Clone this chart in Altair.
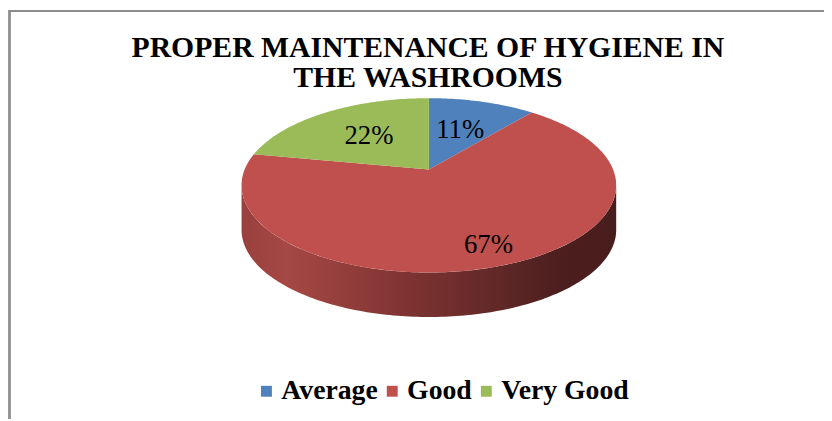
import numpy as np
import pandas as pd
import altair as alt

# ---- data ----
categories = ["Average", "Good", "Very Good"]
values = [11, 67, 22]

# ---- style / geometry constants ----
colors = ["#4f81bd", "#c0504d", "#9bbb59"]
label_radius = [0.55, 0.82, 0.55]
W, H = 824, 413
CX, CY, RX, RY, PERSP, DEPTH = 425, 161, 186, 85.1, 0.182, 45
SERIF = "Liberation Serif"


def project(theta, f=1.0):
    u = f * np.sin(theta)
    v = f * np.cos(theta)
    d = 1 + PERSP * v
    return CX + RX * u / d, CY - RY * v / d


total = float(sum(values))
bounds = np.concatenate([[0.0], np.cumsum(values)]) / total * 2 * np.pi

# top faces of the slices
rows = []
for k, cat in enumerate(categories):
    a0, a1 = bounds[k], bounds[k + 1]
    n = max(int((a1 - a0) / (2 * np.pi) * 360), 4)
    pts = [(CX, CY)] + [project(t) for t in np.linspace(a0, a1, n)]
    for i, (x, y) in enumerate(pts):
        rows.append(dict(category=cat, i=i, x=x, y=y))
slices = pd.DataFrame(rows)

# visible side wall (front part of the outer edge)
t_lo = np.arccos(-PERSP)
t_hi = 2 * np.pi - t_lo
wrows = []
for k, cat in enumerate(categories):
    a0, a1 = max(bounds[k], t_lo), min(bounds[k + 1], t_hi)
    if a1 <= a0:
        continue
    ts = np.linspace(a0, a1, max(int((a1 - a0) / (2 * np.pi) * 360), 4))
    top = [project(t) for t in ts]
    poly = top + [(x, y + DEPTH) for (x, y) in reversed(top)]
    for i, (x, y) in enumerate(poly):
        wrows.append(dict(category=cat, i=i, x=x, y=y))
wall = pd.DataFrame(wrows)

# labels
lrows = []
for k, cat in enumerate(categories):
    mid = (bounds[k] + bounds[k + 1]) / 2
    x, y = project(mid, label_radius[k])
    lrows.append(dict(category=cat, x=x, y=y, label=f"{values[k]}%"))
labels = pd.DataFrame(lrows)

xs = alt.Scale(domain=[0, W], nice=False, zero=False)
ys = alt.Scale(domain=[0, H], nice=False, zero=False, reverse=True)
X = alt.X("x:Q", scale=xs, axis=None)
Y = alt.Y("y:Q", scale=ys, axis=None)

wall_grad = alt.LinearGradient(
    gradient="linear", x1=0, y1=0, x2=1, y2=0,
    stops=[
        alt.GradientStop(offset=0.0, color="#98403e"),
        alt.GradientStop(offset=0.12, color="#a64845"),
        alt.GradientStop(offset=0.45, color="#7d3331"),
        alt.GradientStop(offset=0.7, color="#5f2727"),
        alt.GradientStop(offset=0.85, color="#4c1e1e"),
        alt.GradientStop(offset=1.0, color="#4a1d1d"),
    ],
)

wall_layer = alt.Chart(wall).mark_line(filled=True, fill=wall_grad, strokeWidth=0).encode(
    x=X, y=Y, order=alt.Order("i:Q"), detail="category:N"
)

top_layer = alt.Chart(slices).mark_line(filled=True, strokeWidth=0).encode(
    x=X, y=Y, order=alt.Order("i:Q"),
    color=alt.Color(
        "category:N",
        scale=alt.Scale(domain=categories, range=colors),
        legend=alt.Legend(
            title=None, orient="none", legendX=247, legendY=371,
            direction="horizontal", symbolType="square", symbolSize=121,
            symbolStrokeWidth=0, labelFont=SERIF, labelFontWeight="bold",
            labelFontSize=28, labelColor="black", columnPadding=0, labelOffset=1,
        ),
    ),
)

label_layer = alt.Chart(labels).mark_text(
    font=SERIF, fontSize=27, color="black", baseline="middle", align="center"
).encode(x=X, y=Y, text="label:N")

border_top = alt.Chart(labels).mark_rule(color="#8c8c8c", strokeWidth=2).encode(
    x=alt.value(1), x2=alt.value(W), y=alt.value(1)
)
border_left = alt.Chart(labels).mark_rule(color="#8c8c8c", strokeWidth=2).encode(
    x=alt.value(1.5), y=alt.value(0), y2=alt.value(H)
)

chart = alt.layer(wall_layer, top_layer, label_layer, border_top, border_left).properties(
    width=W, height=H,
    padding=0,
    autosize=alt.AutoSizeParams(type="none"),
    background="white",
    title=alt.Title(
        ["PROPER MAINTENANCE OF HYGIENE IN", "THE WASHROOMS"],
        font=SERIF, fontSize=30, fontWeight="bold", color="black",
        anchor="middle", baseline="top", offset=0, dy=85, dx=12, lineHeight=31,
    ),
).configure_view(stroke=None)

chart.save("out.html", embed_options={"renderer": "svg", "actions": False})
